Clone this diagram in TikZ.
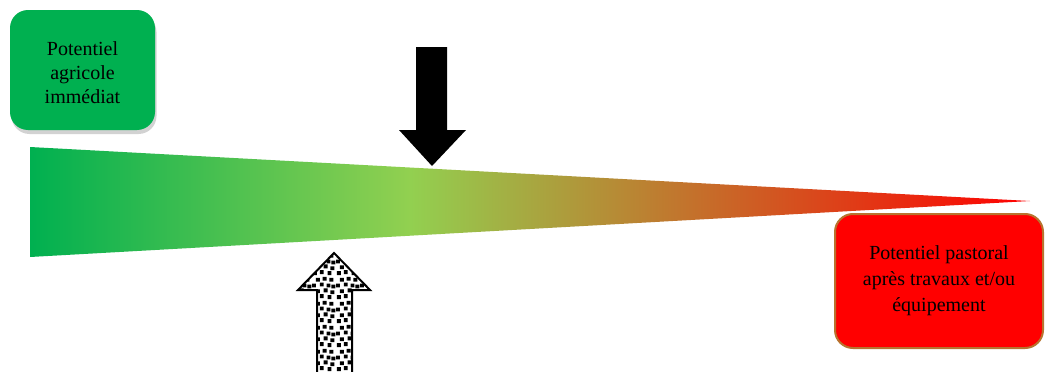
\documentclass[tikz,border=0pt]{standalone}
\usepackage{fontspec}
\setmainfont{Liberation Serif}
\usetikzlibrary{shadows,patterns}
\definecolor{gA}{HTML}{00B050}
\definecolor{gB}{HTML}{92D050}
\definecolor{gC}{HTML}{FF0000}
\definecolor{brd}{HTML}{B8732E}
\pgfdeclarehorizontalshading{wedgeshade}{100bp}{color(0bp)=(gA); color(25bp)=(gA); color(44bp)=(gB); color(75bp)=(gC); color(100bp)=(gC)}
\newcommand{\sqp}[2]{\pgfpathrectangle{\pgfpoint{#1pt}{#2pt}}{\pgfpoint{4pt}{4pt}}}
\pgfdeclarepatternformonly{randsq}{\pgfpointorigin}{\pgfpoint{24pt}{24pt}}{\pgfpoint{24pt}{24pt}}{%
  \sqp{1}{1}\sqp{8}{2}\sqp{16}{1}\sqp{4}{7}\sqp{12}{8}\sqp{19}{6}%
  \sqp{0}{13}\sqp{8}{14}\sqp{15}{13}\sqp{20}{12}\sqp{4}{19}\sqp{11}{20}\sqp{18}{19}%
  \pgfusepath{fill}}
\tikzset{
  box/.style={rounded corners=18pt, align=center, text=black,
    font=\fontsize{20}{24}\selectfont, inner sep=0pt},
}
\begin{document}
\begin{tikzpicture}[x=1pt,y=-1pt]
\clip (0,0) rectangle (1045,372);
\fill[white] (0,0) rectangle (1045,372);
% wedge
\coordinate (wTL) at (30,147);
\coordinate (wBL) at (30,257);
\coordinate (wTip) at (1030,201);
\shade[shading=wedgeshade] (wTL) -- (wTip) -- (wBL) -- cycle;
% green box
\node[box, fill=gA, minimum width=145pt, minimum height=120pt,
  drop shadow={opacity=0.35, shadow xshift=1.5pt, shadow yshift=-4pt}]
  (agri) at (82.5,70) {};
\node[align=center, font=\fontsize{20}{24}\selectfont, inner sep=0pt] (agritxt) at (82.5,73) {Potentiel\\agricole\\immédiat};
% red box
\node[box, fill=gC, draw=brd, line width=2pt, minimum width=208pt, minimum height=134pt,
  font=\fontsize{20}{26}\selectfont]
  (past) at (939,281) {Potentiel pastoral\\après travaux et/ou\\équipement};
% black down arrow
\fill[black] (416,47) -- (447,47) -- (447,130) -- (466,130) -- (432,166) -- (399,130) -- (416,130) -- cycle;
% patterned up arrow
\fill[white] (317,380) -- (317,290) -- (298,290) -- (334,253) -- (370,290) -- (352,290) -- (352,380) -- cycle;
\fill[pattern=randsq, pattern color=black] (317,380) -- (317,290) -- (298,290) -- (334,253) -- (370,290) -- (352,290) -- (352,380) -- cycle;
\draw[black, line width=2pt, line join=miter] (317,380) -- (317,290) -- (298,290) -- (334,253) -- (370,290) -- (352,290) -- (352,380);
\end{tikzpicture}
\end{document}
